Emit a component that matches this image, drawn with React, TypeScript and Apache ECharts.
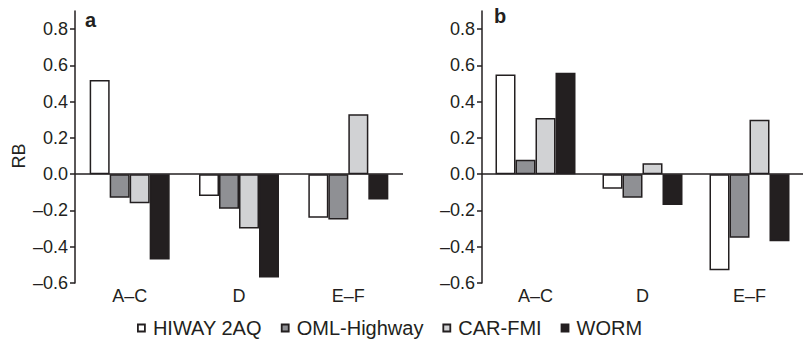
import React, { useEffect, useRef } from "react";
import * as echarts from "echarts";

const categories = ["A–C", "D", "E–F"];
const seriesNames = ["HIWAY 2AQ", "OML-Highway", "CAR-FMI", "WORM"];
const seriesColors = ["#ffffff", "#8f9094", "#d1d2d4", "#231f20"];

// Panel a
const aHiway = [0.52, -0.12, -0.24];
const aOml = [-0.13, -0.19, -0.25];
const aCar = [-0.16, -0.3, 0.33];
const aWorm = [-0.47, -0.57, -0.14];

// Panel b
const bHiway = [0.55, -0.08, -0.53];
const bOml = [0.08, -0.13, -0.35];
const bCar = [0.31, 0.06, 0.3];
const bWorm = [0.56, -0.17, -0.37];

const yTicks = [-0.6, -0.4, -0.2, 0.0, 0.2, 0.4, 0.6, 0.8];

const INK = "#231f20";
const FONT = "'Liberation Sans', Arial, Helvetica, sans-serif";

function fmt(v: number) {
  const s = Math.abs(v).toFixed(1);
  return v < -1e-9 ? "–" + s : s;
}

export default function App() {
  const ref = useRef<HTMLDivElement>(null);
  useEffect(() => {
    if (!ref.current) return;
    const chart = echarts.init(ref.current, null, { renderer: "svg" });
    const panels = [
      [aHiway, aOml, aCar, aWorm],
      [bHiway, bOml, bCar, bWorm],
    ];
    const grids = [
      { left: 75, top: 11, width: 328, height: 272 },
      { left: 482, top: 11, width: 321, height: 272 },
    ];
    const xAxes = grids.map((_, i) => ({
      type: "category",
      gridIndex: i,
      data: categories,
      axisLine: { show: false },
      axisTick: { show: false },
      axisLabel: { fontSize: 18, color: INK, fontFamily: FONT, margin: 4 },
      splitLine: { show: false },
    }));
    const yAxes = grids.map((_, i) => ({
      type: "value",
      gridIndex: i,
      min: -0.6,
      max: 0.9,
      interval: 0.1,
      axisLine: { show: true, onZero: false, lineStyle: { color: INK, width: 1.5 } },
      axisTick: {
        show: true,
        length: 5,
        lineStyle: { color: INK, width: 1.5 },
        customValues: yTicks,
      },
      axisLabel: {
        fontSize: 18,
        color: INK,
        fontFamily: FONT,
        margin: 7,
        customValues: yTicks,
        formatter: (v: number) => fmt(v),
      },
      splitLine: { show: false },
    }));
    const series: any[] = [];
    panels.forEach((p, pi) => {
      p.forEach((vals, si) => {
        series.push({
          type: "bar",
          name: seriesNames[si],
          xAxisIndex: pi,
          yAxisIndex: pi,
          data: vals,
          barWidth: 20,
          barGap: "0%",
          itemStyle: {
            color: seriesColors[si],
            borderColor: INK,
            borderWidth: 1.5,
          },
          markLine:
            si === 0
              ? {
                  silent: true,
                  symbol: "none",
                  label: { show: false },
                  lineStyle: { color: INK, width: 1.5, type: "solid" },
                  data: [{ yAxis: 0 }],
                }
              : undefined,
        });
      });
    });
    chart.setOption({
      animation: false,
      backgroundColor: "#ffffff",
      grid: grids,
      xAxis: xAxes,
      yAxis: yAxes,
      legend: {
        data: seriesNames,
        left: 137,
        top: 316,
        padding: 0,
        icon: "rect",
        itemWidth: 7,
        itemHeight: 7,
        itemGap: 19,
        itemStyle: { borderColor: INK, borderWidth: 1.8 },
        textStyle: {
          fontSize: 20,
          lineHeight: 24,
          color: INK,
          fontFamily: FONT,
          padding: [0, 0, 0, 3],
        },
      },
      graphic: [
        {
          type: "text",
          x: 19,
          y: 156,
          rotation: Math.PI / 2,
          style: {
            text: "RB",
            fontSize: 18,
            fill: INK,
            fontFamily: FONT,
            align: "center",
            verticalAlign: "middle",
          },
        },
        {
          type: "text",
          left: 85,
          top: 10,
          style: { text: "a", fontSize: 20, fontWeight: "bold", fill: INK, fontFamily: FONT },
        },
        {
          type: "text",
          left: 494,
          top: 6,
          style: { text: "b", fontSize: 20, fontWeight: "bold", fill: INK, fontFamily: FONT },
        },
      ],
      series,
    });
    return () => chart.dispose();
  }, []);
  return <div ref={ref} style={{ width: 810, height: 340, position: "absolute", left: 0, top: 0 }} />;
}
